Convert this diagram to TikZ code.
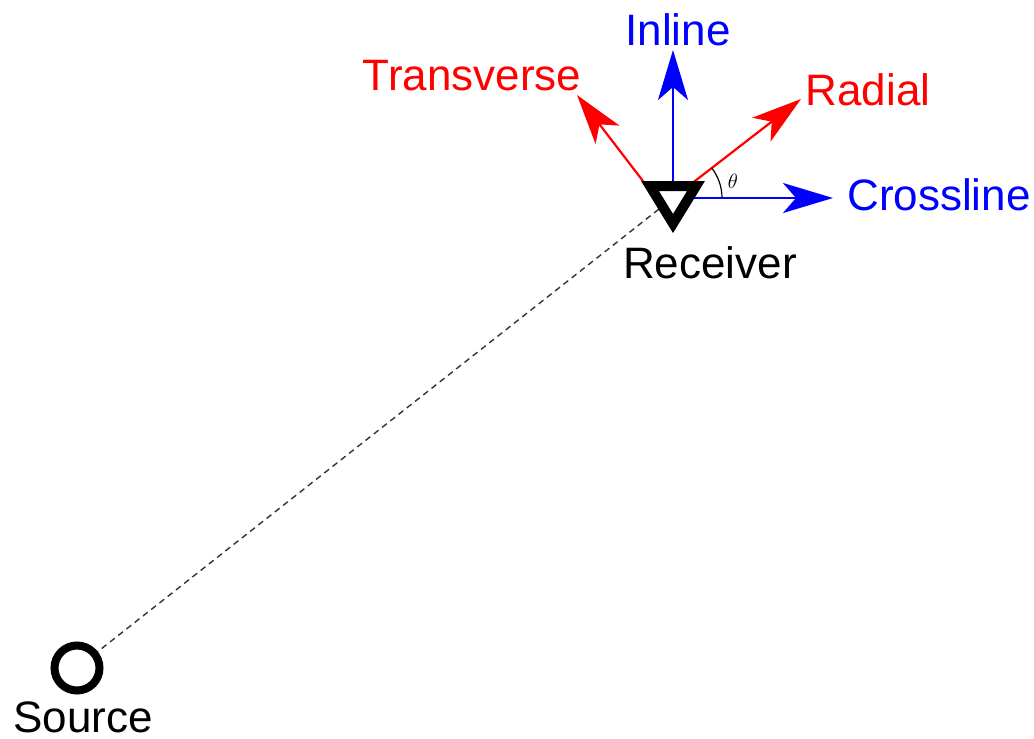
\documentclass[tikz,border=0pt]{standalone}
\usepackage{fontspec}
\setmainfont{Liberation Sans}
\usetikzlibrary{arrows.meta,calc}
\begin{document}
\begin{tikzpicture}[x=1pt,y=-1pt,
  lbl/.style={font=\fontsize{44}{50}\selectfont, anchor=base, inner sep=0pt},
  vec/.style={line width=2.2pt, -{Stealth[length=50pt,width=30pt,inset=13pt]}},
  redc/.style={color=red},
  bluec/.style={color=blue}]
\useasboundingbox (0,0) rectangle (1034,739);
% key points
\coordinate (O) at (673,198);
\coordinate (Tstart) at (656,198);
\coordinate (Src) at (77,668);
\coordinate (InlineTip) at (673,50);
\coordinate (CrossTip) at (833,198);
\coordinate (RadTip) at (801,99);
\coordinate (TransTip) at (577,95);
\coordinate (ArcStart) at (722,198);
% dashed source-receiver line
\draw[line width=1.4pt, dash pattern=on 6pt off 4.5pt, black!80] (Src) -- (O);
% component arrows
\draw[vec, bluec] (O) -- (InlineTip);
\draw[vec, bluec] (O) -- (CrossTip);
\draw[vec, redc] (O) -- (RadTip);
\draw[vec, redc] (Tstart) -- (TransTip);
% receiver triangle
\draw[line width=10pt, fill=white, miter limit=10] (650,186) -- (696,186) -- (673,223.5) -- cycle;
% source circle
\draw[line width=8pt, fill=white] (Src) circle[radius=22.5];
% angle arc
\draw[line width=1.2pt] (ArcStart) arc[start angle=0, end angle=-38, radius=49];
\node[font=\fontsize{22}{24}\selectfont, inner sep=0pt] (theta) at (733,181) {$\theta$};
% labels
\node[lbl, bluec] (inl) at (678,45) {Inline};
\node[lbl, redc] (trn) at (472,90) {Transverse};
\node[lbl, redc] (rad) at (868,105) {Radial};
\node[lbl, bluec] (crs) at (939,210) {Crossline};
\node[lbl] (rcv) at (710,278) {Receiver};
\node[lbl] (src) at (83,732) {Source};
\end{tikzpicture}
\end{document}
